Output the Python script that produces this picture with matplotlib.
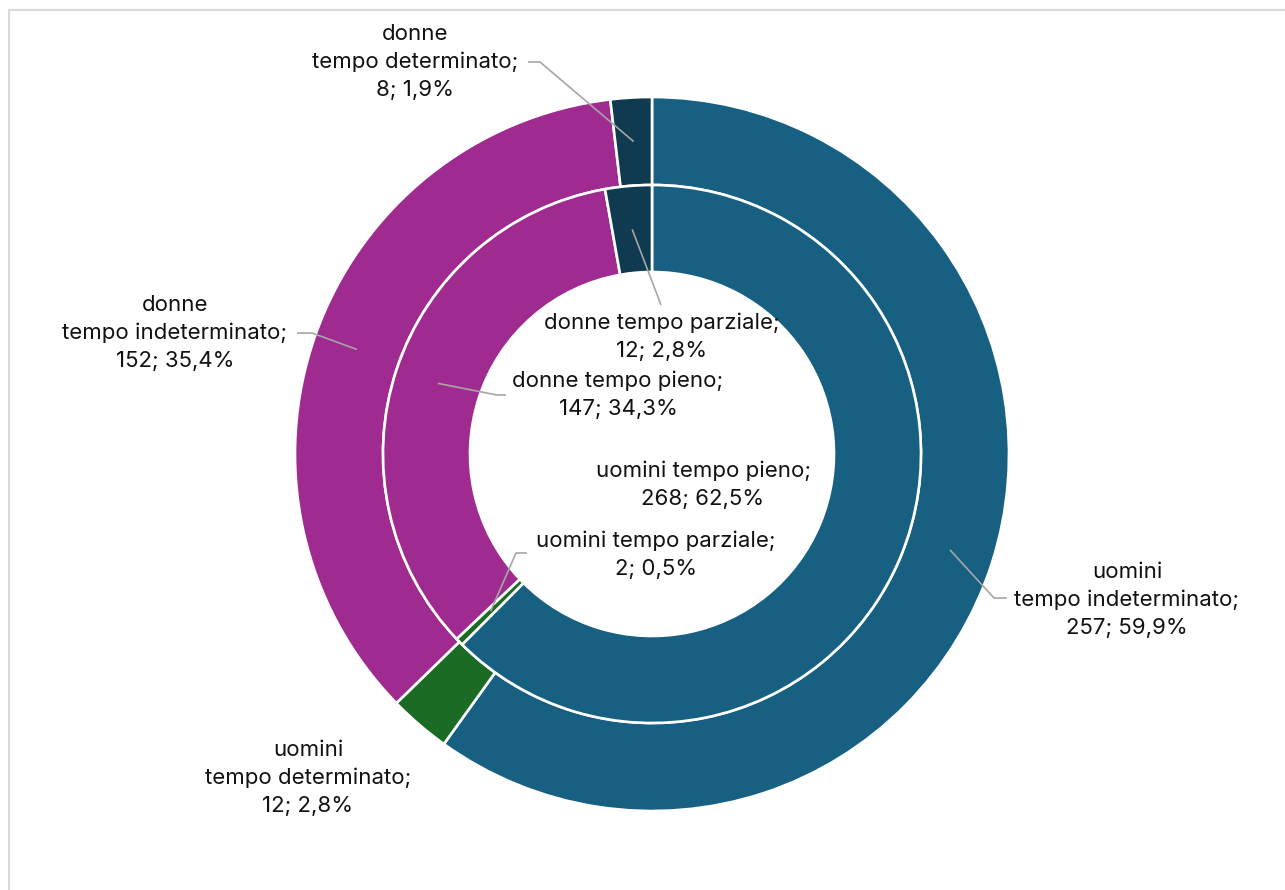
import numpy as np
import matplotlib
matplotlib.use('Agg')
import matplotlib.pyplot as plt
from matplotlib.patches import Rectangle

# outer ring: contract type
outer_names = ['uomini\ntempo indeterminato', 'uomini\ntempo determinato',
               'donne\ntempo indeterminato', 'donne\ntempo determinato']
outer_vals = [257, 12, 152, 8]

# inner ring: working time
inner_names = ['uomini tempo pieno', 'uomini tempo parziale',
               'donne tempo pieno', 'donne tempo parziale']
inner_vals = [268, 2, 147, 12]

COLORS = ['#176082', '#1C6B24', '#A02B90', '#0F3A50']
W, H = 1285, 890
CX, CY = 652, 454        # centre in pixel (top-left origin)
R_OUT, R_MID, R_IN = 357, 269, 182
LEADER = '#A6A6A6'

plt.rcParams['font.family'] = ['Inter', 'DejaVu Sans']

fig = plt.figure(figsize=(W / 100, H / 100), dpi=100)
ax = fig.add_axes([0, 0, 1, 1])

def py(y):
    return H - y

wp_out = dict(width=R_OUT - R_MID, edgecolor='white', linewidth=1.9)
wp_in = dict(width=R_MID - R_IN, edgecolor='white', linewidth=1.9)
w_out, _ = ax.pie(outer_vals, colors=COLORS, radius=R_OUT, center=(CX, py(CY)),
                  startangle=90, counterclock=False, wedgeprops=wp_out, frame=True)
w_in, _ = ax.pie(inner_vals, colors=COLORS, radius=R_MID, center=(CX, py(CY)),
                 startangle=90, counterclock=False, wedgeprops=wp_in, frame=True)
ax.set_xlim(0, W)
ax.set_ylim(0, H)
ax.set_aspect('equal')
ax.axis('off')

def fmt(name, v, tot):
    pct = ('%.1f' % (100.0 * v / tot)).replace('.', ',')
    return '%s;\n%d; %s%%' % (name, v, pct)

def anchor(w):
    t = np.deg2rad((w.theta1 + w.theta2) / 2)
    r = w.r - w.width / 2
    cx, cy = w.center
    return cx + r * np.cos(t), cy + r * np.sin(t)

# label centre (x, y) and leader path: start, elbow (None = no leader)
out_lab = [((1127, 600), [(1007, 598), (994, 598)]),
           ((308, 778), None),
           ((175, 333), [(297, 333), (312, 333)]),
           ((415, 62), [(528, 62), (540, 62)])]
in_lab = [((703, 485), None),
          ((656, 555), [(527, 553), (516, 553)]),
          ((618, 395), [(506, 395), (497, 395)]),
          ((662, 337), [(661, 305), (661, 305)])]

tot_o = sum(outer_vals)
tot_i = sum(inner_vals)
for wedges, names, vals, tot, labs in [(w_out, outer_names, outer_vals, tot_o, out_lab),
                                       (w_in, inner_names, inner_vals, tot_i, in_lab)]:
    for w, n, v, (pos, path) in zip(wedges, names, vals, labs):
        ax.text(pos[0], py(pos[1]), fmt(n, v, tot), ha='center', va='center',
                fontsize=16, color='#111111', linespacing=1.5)
        if path is not None:
            ax_, ay_ = anchor(w)
            xs = [p[0] for p in path] + [ax_]
            ys = [py(p[1]) for p in path] + [ay_]
            ax.plot(xs, ys, color=LEADER, lw=1.2, solid_capstyle='butt')

ax.add_patch(Rectangle((9, -20), W + 20, py(10) + 20, fill=False,
                       edgecolor='#D9D9D9', lw=1.5))

fig.savefig('out.png', dpi=100)
